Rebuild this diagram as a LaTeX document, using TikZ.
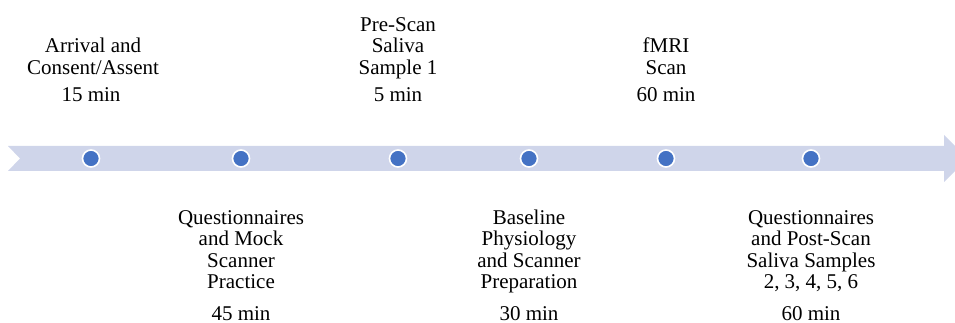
\documentclass[tikz,border=0pt]{standalone}
\usepackage{fontspec}
\setmainfont{Liberation Serif}
\definecolor{bandcol}{RGB}{207,213,234}
\definecolor{dotcol}{RGB}{68,114,196}
\begin{document}
\begin{tikzpicture}[x=1pt,y=-1pt,
  lbl/.style={align=center,inner sep=0pt,anchor=base,font=\fontsize{21}{21.5}\selectfont},
  dur/.style={anchor=base,inner sep=0pt,text depth=0pt,font=\fontsize{21}{21.5}\selectfont},
  milestone/.style={circle,fill=dotcol,draw=white,line width=1.6pt,minimum size=17pt,inner sep=0pt}]
\useasboundingbox (0,0) rectangle (955,323);
\clip (0,0) rectangle (955,323);
% band arrow
\fill[bandcol] (8,146) -- (944,146) -- (944,135) -- (968,158.5) -- (944,182) -- (944,171) -- (8,171) -- (20,158.5) -- cycle;
% milestones
\foreach \n/\x in {d1/91,d2/241,d3/398,d4/529,d5/666,d6/811}
  \node[milestone] (\n) at (\x,158.5) {};
% top labels (base = baseline of last line)
\node[lbl] (t1) at (93,74.5) {Arrival and\\Consent/Assent};
\node[dur] (m1) at (91,102) {15 min};
\node[lbl] (t3) at (398,74.5) {Pre-Scan\\Saliva\\Sample 1};
\node[dur] (m3) at (398,102) {5 min};
\node[lbl] (t5) at (666,74.5) {fMRI\\Scan};
\node[dur] (m5) at (666,102) {60 min};
% bottom labels
\node[lbl] (t2) at (241,288.5) {Questionnaires\\and Mock\\Scanner\\Practice};
\node[dur] (m2) at (241,320) {45 min};
\node[lbl] (t4) at (529,288.5) {Baseline\\Physiology\\and Scanner\\Preparation};
\node[dur] (m4) at (529,320) {30 min};
\node[lbl] (t6) at (811,288.5) {Questionnaires\\and Post-Scan\\Saliva Samples\\2, 3, 4, 5, 6};
\node[dur] (m6) at (811,320) {60 min};
\end{tikzpicture}
\end{document}
